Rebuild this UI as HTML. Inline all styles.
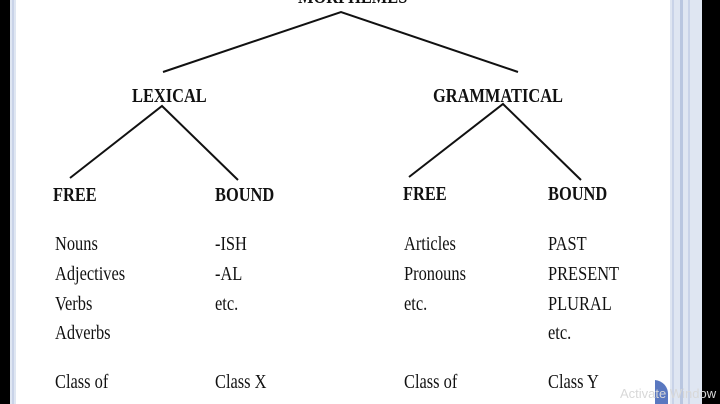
<!DOCTYPE html>
<html><head><style>
html,body{margin:0;padding:0;}
body{width:720px;height:404px;background:#000;position:relative;overflow:hidden;font-family:"Liberation Serif",serif;}
#page{position:absolute;left:10px;top:0;width:692px;height:404px;background:#dfe6f2;}
#white{position:absolute;left:16px;top:0;width:654px;height:404px;background:#fff;}
.b1{position:absolute;top:0;height:404px;width:2px;background:#c9d3e8;}
.t{position:absolute;font-size:20px;color:#111;transform:scaleX(0.82);transform-origin:0 0;white-space:nowrap;line-height:20px;}
.h{font-weight:bold;}
</style></head><body>
<div id="page"></div>
<div class="b1" style="left:12px"></div>
<div id="white"></div>
<div class="b1" style="left:672px"></div>
<div class="b1" style="left:680px;background:#b9c6e0;width:3px"></div>
<div class="b1" style="left:688px;background:#c9d3e8"></div>
<svg style="position:absolute;left:0;top:0" width="720" height="404">
<g stroke="#111" stroke-width="2" fill="none">
<polyline points="163,72 341,12 518,72"/>
<polyline points="70,178 162,106 238,180"/>
<polyline points="409,177 503,104 581,180"/>
</g>
<path d="M655,380 A14,14 0 0 1 668,395 L668,404 L655,404 Z" fill="#5a78c0"/>
<text x="620" y="398" font-family="Liberation Sans" font-size="13" fill="#d8d8d8">Activate Window</text>
</svg>
<div class="t h" style="left:298px;top:-13px">MORPHEMES</div>
<div class="t h" style="left:132px;top:86px">LEXICAL</div>
<div class="t h" style="left:433px;top:86px">GRAMMATICAL</div>
<div class="t h" style="left:53px;top:185px">FREE</div>
<div class="t h" style="left:215px;top:185px">BOUND</div>
<div class="t h" style="left:403px;top:184px">FREE</div>
<div class="t h" style="left:548px;top:184px">BOUND</div>
<div class="t" style="left:55px;top:234px">Nouns</div>
<div class="t" style="left:55px;top:264px">Adjectives</div>
<div class="t" style="left:55px;top:294px">Verbs</div>
<div class="t" style="left:55px;top:323px">Adverbs</div>
<div class="t" style="left:55px;top:372px">Class of</div>
<div class="t" style="left:215px;top:234px">-ISH</div>
<div class="t" style="left:215px;top:264px">-AL</div>
<div class="t" style="left:215px;top:294px">etc.</div>
<div class="t" style="left:215px;top:372px">Class X</div>
<div class="t" style="left:404px;top:234px">Articles</div>
<div class="t" style="left:404px;top:264px">Pronouns</div>
<div class="t" style="left:404px;top:294px">etc.</div>
<div class="t" style="left:404px;top:372px">Class of</div>
<div class="t" style="left:548px;top:234px">PAST</div>
<div class="t" style="left:548px;top:264px">PRESENT</div>
<div class="t" style="left:548px;top:294px">PLURAL</div>
<div class="t" style="left:548px;top:323px">etc.</div>
<div class="t" style="left:548px;top:372px">Class Y</div>
</body></html>
